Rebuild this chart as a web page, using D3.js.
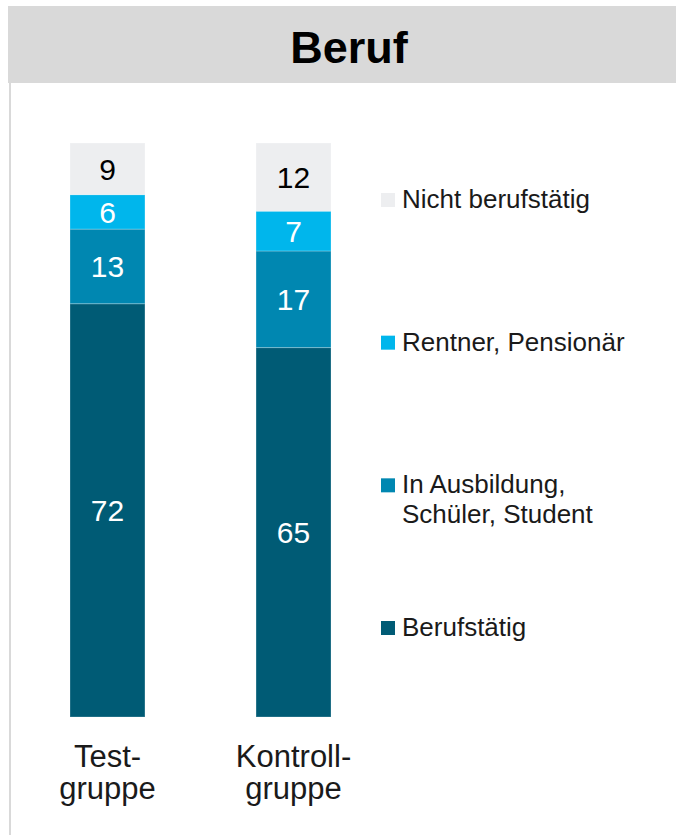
<!DOCTYPE html>
<html>
<head>
<meta charset="utf-8">
<script src="https://cdn.jsdelivr.net/npm/d3@7"></script>
<style>
  body { margin: 0; background: #fff; }
  svg { display: block; font-family: "Liberation Sans", Arial, sans-serif; }
</style>
</head>
<body>
<div id="wrapper"></div>
<script>
// data (percent)
const groups = ["Test-\ngruppe", "Kontroll-\ngruppe"];
const categories = ["Berufstätig", "In Ausbildung, Schüler, Student", "Rentner, Pensionär", "Nicht berufstätig"];
const legendLabels = [["Nicht berufstätig"], ["Rentner, Pensionär"], ["In Ausbildung,", "Schüler, Student"], ["Berufstätig"]];
const berufstaetig = [72, 65];
const ausbildung = [13, 17];
const rentner = [6, 7];
const nichtBerufstaetig = [9, 12];
const colors = ["#005b75", "#0087b1", "#00b6ec", "#edeef0"];
const labelColors = ["#fff", "#fff", "#fff", "#000"];

const rows = groups.map((g, i) => ({
  group: g,
  [categories[0]]: berufstaetig[i],
  [categories[1]]: ausbildung[i],
  [categories[2]]: rentner[i],
  [categories[3]]: nichtBerufstaetig[i],
}));

const dimensions = { width: 676, height: 835 };

const svg = d3.select("#wrapper")
  .append("svg")
  .attr("width", dimensions.width)
  .attr("height", dimensions.height);

// title band + left frame line
svg.append("rect")
  .attr("x", 8).attr("y", 6)
  .attr("width", dimensions.width - 8).attr("height", 77)
  .attr("fill", "#d9d9d9");
svg.append("line")
  .attr("x1", 10).attr("x2", 10)
  .attr("y1", 83).attr("y2", dimensions.height)
  .attr("stroke", "#d9d9d9").attr("stroke-width", 2);
svg.append("text")
  .attr("x", 349).attr("y", 63)
  .attr("text-anchor", "middle")
  .attr("font-size", 45).attr("font-weight", "bold")
  .attr("fill", "#000")
  .text("Beruf");

// stacked (normalised to 100%)
const stack = d3.stack().keys(categories).offset(d3.stackOffsetExpand);
const series = stack(rows);

const xScale = d3.scaleBand()
  .domain(groups)
  .range([70, 331])
  .paddingInner(0.597)
  .paddingOuter(0);

const yScale = d3.scaleLinear()
  .domain([0, 1])
  .range([717, 143]);

const layers = svg.append("g")
  .selectAll("g")
  .data(series)
  .join("g")
  .attr("fill", (d, i) => colors[i]);

layers.selectAll("rect")
  .data(d => d)
  .join("rect")
  .attr("x", d => xScale(d.data.group))
  .attr("width", xScale.bandwidth())
  .attr("y", d => yScale(d[1]))
  .attr("height", d => yScale(d[0]) - yScale(d[1]))
  .attr("stroke", "rgba(255,255,255,0.25)")
  .attr("stroke-width", 1);

layers.selectAll("text")
  .data((d, i) => d.map(v => ({ v, key: d.key, i })))
  .join("text")
  .attr("x", d => xScale(d.v.data.group) + xScale.bandwidth() / 2)
  .attr("y", d => (yScale(d.v[0]) + yScale(d.v[1])) / 2)
  .attr("dy", "0.36em")
  .attr("text-anchor", "middle")
  .attr("font-size", 30)
  .attr("fill", d => labelColors[d.i])
  .text(d => d.v.data[d.key]);

// category labels
const catLabels = svg.append("g")
  .selectAll("text")
  .data(groups)
  .join("text")
  .attr("x", d => xScale(d) + xScale.bandwidth() / 2)
  .attr("y", 767)
  .attr("text-anchor", "middle")
  .attr("font-size", 31)
  .attr("fill", "#1a1a1a");
catLabels.selectAll("tspan")
  .data(d => d.split("\n"))
  .join("tspan")
  .attr("x", function () { return d3.select(this.parentNode).attr("x"); })
  .attr("dy", (d, i) => (i === 0 ? 0 : 32))
  .text(d => d);

// legend
const legendY = d3.scalePoint()
  .domain(legendLabels.map(d => d.join(" ")))
  .range([200, 628]);
const legendColors = colors.slice().reverse();

const legend = svg.append("g")
  .selectAll("g")
  .data(legendLabels)
  .join("g")
  .attr("transform", d => `translate(381, ${legendY(d.join(" "))})`);

legend.append("rect")
  .attr("x", 0).attr("y", -7)
  .attr("width", 14).attr("height", 14)
  .attr("fill", (d, i) => legendColors[i]);

legend.append("text")
  .attr("x", 21).attr("y", 8)
  .attr("font-size", 26)
  .attr("fill", "#1a1a1a")
  .selectAll("tspan")
  .data(d => d)
  .join("tspan")
  .attr("x", 21)
  .attr("dy", (d, i) => (i === 0 ? 0 : 30))
  .text(d => d);
</script>
</body>
</html>
